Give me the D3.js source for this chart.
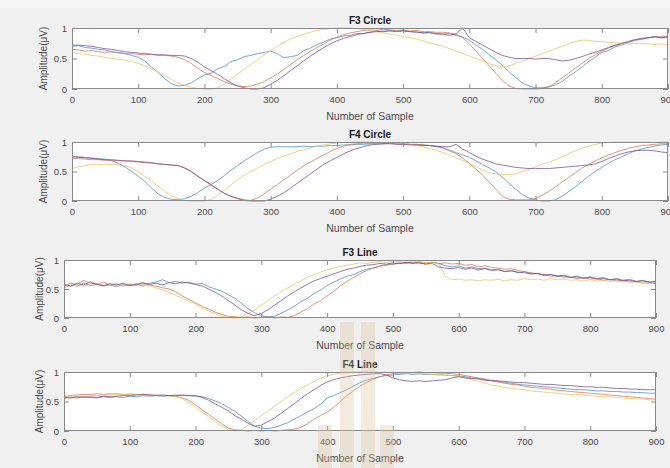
<!DOCTYPE html>
<html>
<head>
<meta charset="utf-8">
<script src="https://cdn.jsdelivr.net/npm/d3@7"></script>
<style>
  html, body { margin: 0; padding: 0; background: #f0f0f0; }
  svg { display: block; font-family: "Liberation Sans", Arial, Helvetica, sans-serif; }
</style>
</head>
<body>
<svg id="chart"></svg>
<script>
// sample index of every stored value (one reading every 10 samples)
const sampleIdx = d3.range(0, 901, 10);
const xTicks = [0, 100, 200, 300, 400, 500, 600, 700, 800, 900];
const yTicks = [0, 0.5, 1];
const panelTitles = ["F3 Circle", "F4 Circle", "F3 Line", "F4 Line"];
const xLabel = "Number of Sample";
const yLabel = "Amplitude(\u03bcV)";

// F3 Circle
const f3CircleBlue = [
  0.70,0.71,0.68,0.67,0.65,0.64,0.61,0.60,0.58,0.55,
  0.52,0.46,0.36,0.27,0.17,0.09,0.05,0.06,0.10,0.17,
  0.23,0.26,0.33,0.37,0.45,0.48,0.53,0.55,0.58,0.60,
  0.62,0.58,0.51,0.53,0.55,0.63,0.67,0.73,0.77,0.82,
  0.84,0.87,0.88,0.91,0.91,0.93,0.95,0.94,0.96,0.95,
  0.96,0.94,0.94,0.92,0.93,0.91,0.90,0.91,0.88,0.85,
  0.80,0.72,0.65,0.56,0.48,0.39,0.28,0.19,0.10,0.05,
  0.02,0.02,0.03,0.07,0.12,0.21,0.28,0.36,0.45,0.52,
  0.60,0.63,0.69,0.72,0.76,0.80,0.81,0.84,0.86,0.84,
  0.86];
const f3CircleOrange = [
  0.65,0.64,0.62,0.63,0.61,0.60,0.61,0.59,0.58,0.58,
  0.57,0.56,0.57,0.55,0.55,0.54,0.52,0.48,0.42,0.34,
  0.27,0.22,0.17,0.12,0.08,0.05,0.04,0.05,0.08,0.12,
  0.18,0.25,0.32,0.40,0.48,0.55,0.62,0.68,0.74,0.80,
  0.85,0.89,0.92,0.94,0.96,0.97,0.96,0.98,0.97,0.96,
  0.97,0.95,0.96,0.94,0.94,0.93,0.93,0.92,0.90,0.84,
  0.74,0.62,0.50,0.38,0.26,0.14,0.05,0.01,0.00,0.00,
  0.00,0.01,0.04,0.10,0.18,0.26,0.34,0.42,0.50,0.56,
  0.62,0.67,0.71,0.74,0.77,0.80,0.82,0.84,0.85,0.86,
  0.87];
const f3CircleYellow = [
  0.60,0.58,0.57,0.55,0.54,0.52,0.50,0.49,0.47,0.45,
  0.42,0.38,0.33,0.28,0.22,0.16,0.10,0.06,0.03,0.01,
  0.00,0.00,0.02,0.08,0.16,0.24,0.32,0.40,0.48,0.56,
  0.63,0.70,0.76,0.82,0.86,0.90,0.93,0.96,0.98,0.99,
  1.00,1.00,1.00,0.99,0.98,0.96,0.94,0.92,0.90,0.88,
  0.86,0.84,0.82,0.79,0.76,0.73,0.70,0.66,0.62,0.58,
  0.54,0.50,0.46,0.42,0.38,0.36,0.38,0.42,0.46,0.50,
  0.54,0.58,0.62,0.66,0.70,0.74,0.78,0.80,0.80,0.78,
  0.78,0.76,0.76,0.75,0.74,0.75,0.74,0.74,0.73,0.74,
  0.72];
const f3CirclePurple = [
  0.72,0.72,0.71,0.70,0.68,0.66,0.65,0.63,0.61,0.60,
  0.59,0.58,0.57,0.56,0.56,0.55,0.55,0.54,0.50,0.44,
  0.36,0.30,0.24,0.17,0.10,0.05,0.02,0.00,0.00,0.02,
  0.08,0.14,0.22,0.30,0.38,0.46,0.54,0.61,0.68,0.74,
  0.79,0.83,0.86,0.89,0.91,0.93,0.94,0.95,0.95,0.94,
  0.95,0.94,0.93,0.92,0.92,0.90,0.90,0.88,0.90,1.00,
  0.84,0.78,0.72,0.66,0.60,0.55,0.52,0.50,0.50,0.50,
  0.49,0.50,0.50,0.48,0.46,0.47,0.50,0.53,0.57,0.60,
  0.64,0.68,0.72,0.75,0.78,0.81,0.83,0.84,0.86,0.84,
  0.85];

// F4 Circle
const f4CircleBlue = [
  0.75,0.75,0.74,0.73,0.72,0.71,0.68,0.64,0.58,0.50,
  0.42,0.33,0.22,0.12,0.06,0.03,0.02,0.04,0.08,0.14,
  0.22,0.28,0.35,0.43,0.52,0.60,0.68,0.75,0.82,0.88,
  0.91,0.92,0.92,0.92,0.92,0.93,0.92,0.93,0.93,0.94,
  0.94,0.95,0.95,0.96,0.96,0.97,0.97,0.97,0.98,0.97,
  0.97,0.96,0.96,0.95,0.94,0.92,0.90,0.86,0.82,0.78,
  0.74,0.68,0.62,0.56,0.50,0.40,0.30,0.20,0.11,0.05,
  0.02,0.00,0.00,0.02,0.08,0.16,0.24,0.33,0.42,0.50,
  0.57,0.64,0.70,0.75,0.80,0.85,0.88,0.91,0.93,0.95,
  0.96];
const f4CircleOrange = [
  0.72,0.72,0.71,0.70,0.70,0.69,0.69,0.68,0.68,0.67,
  0.66,0.65,0.64,0.63,0.62,0.61,0.60,0.56,0.50,0.42,
  0.34,0.27,0.20,0.13,0.08,0.05,0.02,0.01,0.05,0.12,
  0.20,0.28,0.36,0.44,0.52,0.60,0.66,0.72,0.78,0.84,
  0.89,0.93,0.96,0.97,0.98,0.98,0.98,0.98,0.98,0.97,
  0.97,0.96,0.96,0.95,0.94,0.93,0.90,0.85,0.80,0.73,
  0.64,0.54,0.44,0.32,0.20,0.08,0.03,0.02,0.02,0.02,
  0.04,0.10,0.16,0.24,0.32,0.40,0.48,0.56,0.62,0.68,
  0.73,0.78,0.82,0.86,0.89,0.92,0.94,0.95,0.96,0.97,
  0.97];
const f4CircleYellow = [
  0.55,0.58,0.60,0.62,0.62,0.62,0.62,0.61,0.60,0.56,
  0.50,0.42,0.34,0.25,0.16,0.09,0.04,0.01,0.00,0.00,
  0.00,0.03,0.10,0.18,0.27,0.36,0.44,0.50,0.56,0.62,
  0.67,0.72,0.76,0.80,0.84,0.87,0.90,0.93,0.95,0.97,
  0.98,0.99,1.00,1.00,1.00,1.00,0.99,0.99,0.98,0.98,
  0.97,0.96,0.94,0.92,0.89,0.86,0.82,0.78,0.73,0.69,
  0.64,0.58,0.52,0.48,0.46,0.45,0.45,0.46,0.50,0.54,
  0.58,0.62,0.66,0.70,0.75,0.80,0.85,0.89,0.93,0.96,
  0.98,0.99,1.00,1.00,1.00,1.00,1.00,1.00,0.99,1.00,
  1.00];
const f4CirclePurple = [
  0.75,0.74,0.73,0.72,0.71,0.70,0.70,0.69,0.68,0.68,
  0.67,0.66,0.65,0.63,0.62,0.61,0.60,0.56,0.50,0.42,
  0.35,0.28,0.20,0.13,0.08,0.04,0.01,0.00,0.00,0.00,
  0.03,0.08,0.14,0.22,0.30,0.38,0.46,0.54,0.62,0.68,
  0.74,0.80,0.85,0.89,0.92,0.95,0.96,0.97,0.97,0.96,
  0.96,0.95,0.95,0.94,0.94,0.93,0.92,0.92,0.96,0.88,
  0.82,0.76,0.71,0.67,0.63,0.61,0.59,0.57,0.56,0.55,
  0.55,0.55,0.55,0.56,0.57,0.58,0.59,0.60,0.61,0.63,
  0.67,0.72,0.76,0.80,0.83,0.85,0.86,0.86,0.85,0.83,
  0.82];

// F3 Line
const f3LineBlue = [
  0.52,0.57,0.55,0.60,0.56,0.58,0.55,0.57,0.54,0.58,
  0.56,0.59,0.55,0.60,0.62,0.66,0.61,0.63,0.60,0.62,
  0.58,0.60,0.54,0.50,0.46,0.40,0.34,0.25,0.16,0.09,
  0.04,0.02,0.03,0.08,0.14,0.20,0.28,0.34,0.42,0.48,
  0.56,0.62,0.67,0.72,0.75,0.80,0.84,0.86,0.90,0.92,
  0.93,0.95,0.94,0.96,0.95,0.93,0.96,0.94,0.90,0.88,
  0.90,0.86,0.88,0.85,0.86,0.83,0.84,0.80,0.82,0.78,
  0.80,0.76,0.77,0.73,0.75,0.72,0.74,0.70,0.72,0.69,
  0.71,0.68,0.70,0.66,0.68,0.65,0.67,0.63,0.65,0.62,
  0.63];
const f3LineOrange = [
  0.55,0.60,0.58,0.65,0.60,0.58,0.62,0.57,0.59,0.55,
  0.58,0.56,0.60,0.57,0.55,0.52,0.50,0.45,0.38,0.32,
  0.26,0.20,0.15,0.10,0.06,0.03,0.02,0.01,0.02,0.00,
  0.01,0.02,0.00,0.02,0.01,0.04,0.10,0.16,0.24,0.30,
  0.38,0.46,0.55,0.63,0.70,0.76,0.82,0.86,0.89,0.91,
  0.93,0.94,0.96,0.95,0.97,0.95,0.96,0.94,0.95,0.93,
  0.94,0.91,0.92,0.88,0.90,0.87,0.86,0.84,0.85,0.82,
  0.80,0.78,0.76,0.75,0.72,0.73,0.70,0.71,0.68,0.70,
  0.67,0.68,0.65,0.66,0.64,0.65,0.62,0.63,0.60,0.61,
  0.59];
const f3LineYellow = [
  0.56,0.54,0.58,0.55,0.57,0.60,0.56,0.58,0.55,0.57,
  0.59,0.56,0.58,0.55,0.52,0.48,0.44,0.39,0.34,0.29,
  0.24,0.18,0.12,0.07,0.03,0.01,0.00,0.02,0.08,0.14,
  0.22,0.30,0.38,0.45,0.52,0.58,0.64,0.70,0.75,0.79,
  0.83,0.86,0.89,0.91,0.93,0.95,0.94,0.96,0.97,0.96,
  0.98,0.97,0.96,0.98,0.97,0.95,0.96,0.93,0.72,0.66,
  0.67,0.65,0.66,0.64,0.66,0.65,0.67,0.64,0.66,0.65,
  0.68,0.66,0.67,0.65,0.68,0.66,0.67,0.65,0.66,0.64,
  0.66,0.64,0.65,0.63,0.64,0.62,0.63,0.61,0.62,0.60,
  0.58];
const f3LinePurple = [
  0.58,0.55,0.60,0.57,0.62,0.58,0.56,0.59,0.57,0.60,
  0.56,0.58,0.61,0.58,0.60,0.57,0.61,0.59,0.62,0.60,
  0.58,0.55,0.50,0.44,0.38,0.30,0.22,0.14,0.08,0.04,
  0.08,0.14,0.22,0.30,0.38,0.45,0.52,0.58,0.64,0.68,
  0.72,0.76,0.80,0.84,0.86,0.89,0.91,0.92,0.94,0.93,
  0.95,0.94,0.96,0.94,0.95,0.93,0.94,0.88,0.86,0.85,
  0.87,0.84,0.86,0.83,0.85,0.82,0.83,0.80,0.81,0.79,
  0.78,0.76,0.77,0.74,0.75,0.72,0.73,0.70,0.71,0.68,
  0.70,0.67,0.68,0.66,0.67,0.64,0.65,0.63,0.64,0.62,
  0.62];

// F4 Line
const f4LineBlue = [
  0.56,0.57,0.56,0.58,0.57,0.56,0.58,0.57,0.58,0.57,
  0.59,0.58,0.60,0.59,0.60,0.59,0.60,0.61,0.60,0.60,
  0.59,0.58,0.55,0.51,0.46,0.40,0.33,0.25,0.16,0.08,
  0.05,0.04,0.06,0.10,0.14,0.20,0.26,0.32,0.38,0.45,
  0.56,0.60,0.65,0.70,0.76,0.82,0.86,0.89,0.92,0.94,
  0.95,0.96,0.97,0.96,0.97,0.96,0.96,0.95,0.95,0.94,
  0.93,0.92,0.90,0.89,0.87,0.85,0.84,0.82,0.81,0.79,
  0.78,0.77,0.76,0.75,0.74,0.73,0.72,0.71,0.70,0.70,
  0.69,0.68,0.68,0.67,0.67,0.66,0.66,0.65,0.65,0.64,
  0.64];
const f4LineOrange = [
  0.58,0.60,0.61,0.62,0.62,0.63,0.62,0.63,0.63,0.62,
  0.63,0.62,0.62,0.61,0.61,0.60,0.60,0.59,0.56,0.52,
  0.44,0.36,0.28,0.20,0.12,0.05,0.02,0.01,0.00,0.01,
  0.00,0.01,0.00,0.01,0.02,0.03,0.06,0.12,0.20,0.26,
  0.32,0.40,0.50,0.60,0.68,0.76,0.82,0.88,0.92,0.95,
  0.97,0.98,0.99,0.99,1.00,0.99,0.99,0.98,0.98,0.97,
  0.96,0.94,0.92,0.90,0.88,0.85,0.83,0.81,0.79,0.78,
  0.76,0.74,0.73,0.72,0.71,0.69,0.68,0.67,0.66,0.65,
  0.64,0.63,0.62,0.61,0.60,0.59,0.58,0.57,0.56,0.55,
  0.54];
const f4LineYellow = [
  0.57,0.58,0.58,0.59,0.60,0.60,0.61,0.61,0.62,0.62,
  0.62,0.62,0.61,0.61,0.60,0.60,0.59,0.58,0.55,0.48,
  0.40,0.32,0.24,0.16,0.08,0.03,0.00,0.02,0.10,0.18,
  0.26,0.34,0.42,0.50,0.58,0.65,0.72,0.78,0.84,0.89,
  0.93,0.96,0.98,0.99,1.00,1.00,1.00,1.00,0.99,1.00,
  0.99,0.99,0.98,0.98,0.97,0.97,0.96,0.96,0.95,0.94,
  0.93,0.90,0.87,0.84,0.81,0.78,0.76,0.74,0.72,0.71,
  0.70,0.68,0.67,0.66,0.65,0.64,0.63,0.62,0.62,0.61,
  0.60,0.59,0.58,0.58,0.57,0.56,0.55,0.55,0.54,0.53,
  0.53];
const f4LinePurple = [
  0.57,0.56,0.58,0.57,0.58,0.57,0.59,0.58,0.59,0.60,
  0.60,0.61,0.62,0.61,0.60,0.61,0.60,0.60,0.61,0.60,
  0.60,0.57,0.52,0.46,0.40,0.34,0.26,0.20,0.13,0.08,
  0.10,0.16,0.22,0.30,0.38,0.46,0.55,0.63,0.70,0.77,
  0.83,0.87,0.90,0.92,0.94,0.95,0.96,0.97,0.97,0.95,
  0.90,0.87,0.85,0.84,0.85,0.84,0.85,0.86,0.87,0.90,
  0.92,0.90,0.89,0.88,0.86,0.86,0.85,0.84,0.83,0.82,
  0.82,0.81,0.80,0.79,0.79,0.78,0.77,0.77,0.76,0.75,
  0.75,0.74,0.74,0.73,0.72,0.72,0.71,0.71,0.70,0.70,
  0.70];

const panelSeries = [
  [f3CircleBlue, f3CircleOrange, f3CircleYellow, f3CirclePurple],
  [f4CircleBlue, f4CircleOrange, f4CircleYellow, f4CirclePurple],
  [f3LineBlue, f3LineOrange, f3LineYellow, f3LinePurple],
  [f4LineBlue, f4LineOrange, f4LineYellow, f4LinePurple]
];

// matlab default order, a bit washed out like the scan
const lineColors = ["#3f8fc9", "#dd7448", "#edc25e", "#7b4a95"];

const width = 670;
const height = 468;
const svg = d3.select("#chart").attr("width", width).attr("height", height);

svg.append("rect").attr("width", width).attr("height", height).attr("fill", "#f0f0f0");
svg.append("rect").attr("width", width).attr("height", 8).attr("fill", "#f7f7f7");

// plot boxes (px)
const boxes = [
  { x0: 72, x1: 668, y0: 28, y1: 89, yl: 25 },
  { x0: 72, x1: 668, y0: 142, y1: 201, yl: 25 },
  { x0: 64, x1: 656, y0: 260, y1: 318, yl: 21 },
  { x0: 64, x1: 656, y0: 372, y1: 431, yl: 21 }
];

const axisColor = "#8a8a8a";
const textColor = "#4a4a4a";

boxes.forEach((b, i) => {
  const x = d3.scaleLinear().domain([0, 900]).range([b.x0, b.x1]);
  const y = d3.scaleLinear().domain([0, 1]).range([b.y1, b.y0]);
  const g = svg.append("g");

  g.append("rect")
    .attr("x", b.x0)
    .attr("y", b.y0)
    .attr("width", b.x1 - b.x0)
    .attr("height", b.y1 - b.y0)
    .attr("fill", "#fff");

  const line = d3
    .line()
    .x((d, j) => x(sampleIdx[j]))
    .y((d) => y(d));

  panelSeries[i].forEach((vals, k) => {
    g.append("path")
      .datum(vals)
      .attr("fill", "none")
      .attr("stroke", lineColors[k])
      .attr("stroke-width", 0.9)
      .attr("stroke-opacity", 0.85)
      .attr("d", line);
  });

  const styleAxis = (sel) => {
    sel.select(".domain").remove();
    sel.selectAll(".tick line").attr("stroke", axisColor);
    sel.selectAll(".tick text")
      .attr("fill", textColor)
      .style("font-size", "9.5px")
      .style("font-family", "'Liberation Sans', Arial, sans-serif");
  };

  g.append("g")
    .attr("transform", `translate(0,${b.y1})`)
    .call(d3.axisBottom(x).tickValues(xTicks).tickSize(-5).tickPadding(7))
    .call(styleAxis);
  g.append("g")
    .attr("transform", `translate(0,${b.y0})`)
    .call(d3.axisTop(x).tickValues(xTicks).tickSize(-5).tickFormat(""))
    .call(styleAxis);
  g.append("g")
    .attr("transform", `translate(${b.x0},0)`)
    .call(d3.axisLeft(y).tickValues(yTicks).tickSize(-5).tickPadding(5).tickFormat(d3.format("")))
    .call(styleAxis);
  g.append("g")
    .attr("transform", `translate(${b.x1},0)`)
    .call(d3.axisRight(y).tickValues(yTicks).tickSize(-5).tickFormat(""))
    .call(styleAxis);

  g.append("rect")
    .attr("x", b.x0 + 0.5)
    .attr("y", b.y0 + 0.5)
    .attr("width", b.x1 - b.x0 - 1)
    .attr("height", b.y1 - b.y0 - 1)
    .attr("fill", "none")
    .attr("stroke", axisColor);

  g.append("text")
    .attr("x", (b.x0 + b.x1) / 2)
    .attr("y", b.y0 - 4)
    .attr("text-anchor", "middle")
    .attr("font-size", "10px")
    .attr("font-weight", "bold")
    .attr("fill", "#1a1a1a")
    .text(panelTitles[i]);

  g.append("text")
    .attr("x", (b.x0 + b.x1) / 2)
    .attr("y", b.y1 + 31)
    .attr("text-anchor", "middle")
    .attr("font-size", "10.5px")
    .attr("fill", textColor)
    .text(xLabel);

  g.append("text")
    .attr("transform", `translate(${b.x0 - b.yl},${(b.y0 + b.y1) / 2}) rotate(-90)`)
    .attr("text-anchor", "middle")
    .attr("font-size", "10px")
    .attr("fill", textColor)
    .text(yLabel);
});

// pale logo watermark sitting over the lower panels
const mark = svg.append("g").attr("fill", "#d8c49c").attr("opacity", 0.32);
[[340, 322, 14, 146], [361, 322, 14, 146], [318, 425, 14, 43], [380, 425, 14, 43]].forEach((r) => {
  mark.append("rect").attr("x", r[0]).attr("y", r[1]).attr("width", r[2]).attr("height", r[3]);
});
</script>
</body>
</html>
